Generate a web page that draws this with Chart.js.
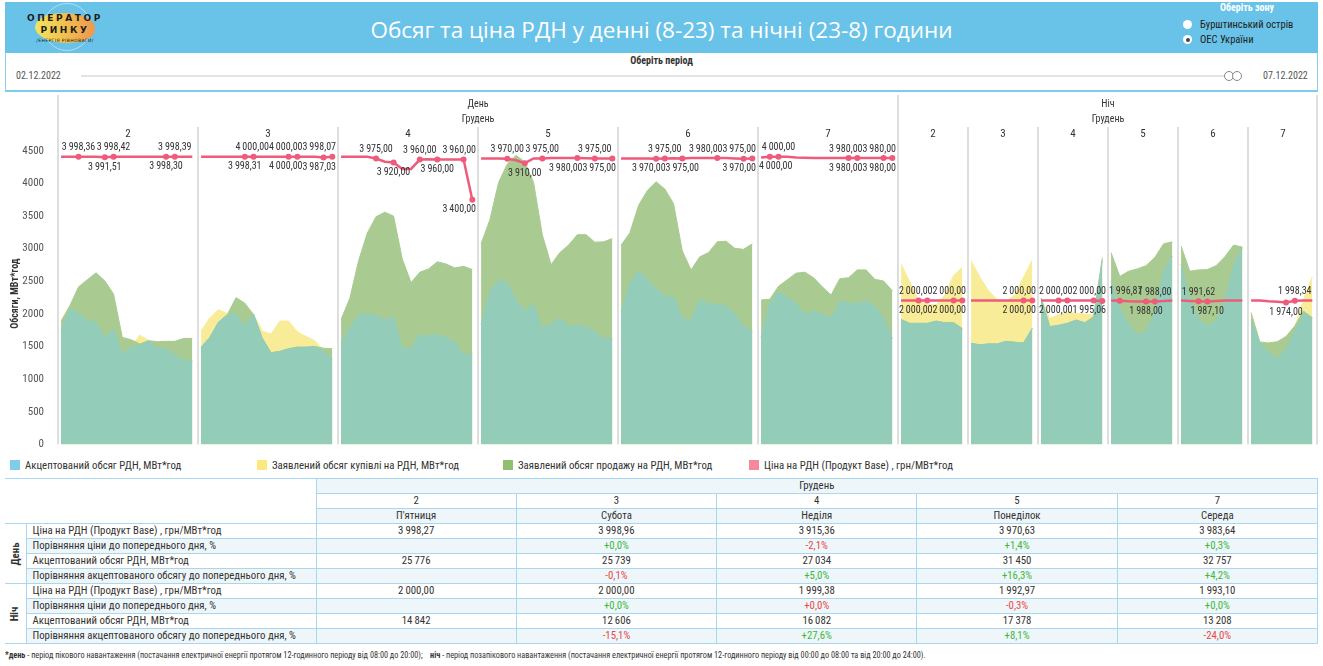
<!DOCTYPE html>
<html lang="uk">
<head>
<meta charset="utf-8">
<title>Обсяг та ціна РДН</title>
<script src="https://cdn.jsdelivr.net/npm/chart.js@4.4.1/dist/chart.umd.min.js"></script>
<style>
html, body { margin: 0; padding: 0; background: #fff; }
body { width: 1323px; height: 666px; position: relative; overflow: hidden;
       font-family: 'Liberation Sans Narrow', 'Roboto Condensed', Roboto, sans-serif; color: #333; }
#head { position: absolute; left: 5px; top: 2px; width: 1313px; height: 51px; background: #69c3e8; }
#title { position: absolute; left: 0; width: 100%; top: 12px; text-align: center; color: #fff;
         font: 22.5px 'Open Sans', sans-serif; }
#globe { position: absolute; left: 38px; top: 1px; width: 46px; height: 46px; border-radius: 50%;
         border: 1px solid rgba(255,255,255,0.45); }
#blob { position: absolute; left: 30px; top: 11px; width: 60px; height: 30px; border-radius: 48% 52% 45% 55%;
        background: linear-gradient(90deg, #f3e55e 0%, #f2c34f 45%, #ee9650 100%); }
.lg1 { position: absolute; left: 20px; top: 11px; width: 80px; text-align: center; font: bold 9px 'DejaVu Sans', sans-serif;
       letter-spacing: 2.6px; color: #1d1d1d; }
.lg2 { top: 23px; }
.lg3 { top: 36px; font: 4.5px 'DejaVu Sans', sans-serif; letter-spacing: 0.4px; }
#zone { position: absolute; left: 1180px; top: 2px; width: 143px; font-size: 10.5px; }
#zone .t { position: absolute; left: 40px; top: 0; color: #fff; font-weight: bold; font-size: 10px; }
#zone .r { position: absolute; left: 20px; white-space: nowrap; color: #222; }
#zone .r i { position: absolute; left: -17px; top: 2px; width: 9px; height: 9px; border-radius: 50%; background: #fff; }
#zone .r i.on::after { content: ''; position: absolute; left: 2.5px; top: 2.5px; width: 4px; height: 4px; border-radius: 50%; background: #444; }
#period { position: absolute; left: 5px; top: 53px; width: 1311px; height: 37px; border: 1px solid #8fd0ec;
          border-top: none; border-bottom: 2px solid #7fcbeb; }
#period .t { position: absolute; left: 0; width: 100%; top: 2px; text-align: center; font-weight: bold; font-size: 10px; }
#period .d { position: absolute; top: 17px; font-size: 10px; color: #555; }
#track { position: absolute; left: 75px; top: 22px; width: 1160px; height: 2px; background: #e3e3e3; }
.knob { position: absolute; top: 18px; width: 8px; height: 8px; border-radius: 50%; border: 1px solid #888; background: #fff; }
#chartWrap { position: absolute; left: 0; top: 95px; width: 1323px; height: 362px; }
#legend div { position: absolute; top: 459px; font-size: 10.8px; white-space: nowrap; color: #333; }
#legend i { display: inline-block; width: 10px; height: 10px; margin-right: 5px; vertical-align: -1px; }
#tbl { position: absolute; left: 5px; top: 478px; width: 1313px; border-collapse: collapse; table-layout: fixed; font-size: 10.8px; }
#tbl td { border: 1px solid #a9d8ee; height: 14px; line-height: 14px; padding: 0; text-align: center; white-space: nowrap; overflow: hidden; }
#tbl td.lab { text-align: left; padding-left: 6px; }
#tbl tr.sh td.v, #tbl tr.sh td.lab { background: #eef6fa; }
#tbl td.blank { border-left: none; background: #fff; }
#tbl td.grp { position: relative; font-weight: bold; border-left: none; }
#tbl td.grp span { display: inline-block; transform: rotate(-90deg); }
#note { position: absolute; left: 5px; top: 650px; font-size: 8.2px; white-space: nowrap; color: #333; }
</style>
</head>
<body>
<div id="head">
  <div id="globe"></div>
  <div id="blob"></div>
  <div class="lg1">ОПЕРАТОР</div>
  <div class="lg1 lg2">РИНКУ</div>
  <div class="lg1 lg3">/ЕНЕРГІЯ РІВНОВАГИ/</div>
  <div id="title">Обсяг та ціна РДН у денні (8-23) та нічні (23-8) години</div>
</div>
<div id="zone">
  <div class="t">Оберіть зону</div>
  <div class="r" style="top:16px"><i></i>Бурштинський острів</div>
  <div class="r" style="top:31px"><i class="on"></i>ОЕС України</div>
</div>
<div id="period">
  <div class="t">Оберіть період</div>
  <div class="d" style="left:10px">02.12.2022</div>
  <div id="track"></div>
  <div class="knob" style="left:1218px"></div>
  <div class="knob" style="left:1226px"></div>
  <div class="d" style="left:1257px">07.12.2022</div>
</div>
<div id="chartWrap"><canvas id="chart" width="1323" height="362"></canvas></div>
<div id="legend"></div>
<table id="tbl"></table>
<div id="note"><b>*день</b> - період пікового навантаження (постачання електричної енергії протягом 12-годинного періоду від 08:00 до 20:00);&nbsp;&nbsp;&nbsp; <b>ніч</b> - період позапікового навантаження (постачання електричної енергії протягом 12-годинного періоду від 00:00 до 08:00 та від 20:00 до 24:00).</div>

<script>
"use strict";

// panels: day numbers of December
var dayLabels = ['2', '3', '4', '5', '6', '7'];
var nightLabels = ['2', '3', '4', '5', '6', '7'];
var volumeTicks = [0, 500, 1000, 1500, 2000, 2500, 3000, 3500, 4000, 4500];

// hourly values, day panels (16 hours each)
var dayAccepted = [
    [1765, 2075, 2015, 1900, 1875, 1640, 1775, 1375, 1490, 1515, 1590, 1475, 1465, 1375, 1290, 1290],
    [1490, 1640, 1875, 1985, 2000, 1815, 2000, 1625, 1405, 1425, 1465, 1490, 1490, 1500, 1425, 1315],
    [1565, 1790, 1980, 2000, 1980, 1905, 1955, 1475, 1465, 1690, 1655, 1690, 1640, 1565, 1375, 1390],
    [1840, 2340, 2525, 2465, 2215, 2055, 2150, 1780, 1840, 1940, 1825, 1825, 1805, 1725, 1625, 1625],
    [2025, 2475, 2665, 2525, 2390, 2275, 2265, 1940, 1905, 2225, 2155, 2150, 2125, 2005, 1805, 1740],
    [1640, 2165, 2340, 2255, 2165, 1990, 2055, 1990, 1940, 2205, 2165, 2165, 2200, 2125, 1940, 1625]
];
var dayBuy = [
    [1765, 2075, 2015, 1900, 1875, 1640, 1775, 1375, 1500, 1675, 1595, 1475, 1465, 1375, 1290, 1290],
    [1740, 1940, 2065, 2005, 2060, 1950, 1990, 1740, 1690, 1890, 1890, 1725, 1655, 1590, 1440, 1315],
    [1565, 1790, 1980, 2000, 1980, 1905, 1955, 1475, 1465, 1690, 1655, 1690, 1640, 1565, 1375, 1390],
    [1840, 2340, 2525, 2465, 2215, 2055, 2150, 1780, 1840, 1940, 1825, 1825, 1805, 1725, 1625, 1625],
    [2025, 2475, 2665, 2525, 2390, 2275, 2265, 1940, 1905, 2225, 2155, 2150, 2125, 2005, 1805, 1740],
    [1640, 2165, 2340, 2255, 2165, 1990, 2055, 1990, 1940, 2205, 2165, 2165, 2200, 2125, 1940, 1625]
];
var daySell = [
    [1890, 2125, 2415, 2525, 2630, 2505, 2305, 1640, 1605, 1540, 1590, 1575, 1580, 1580, 1625, 1625],
    [1490, 1640, 1875, 1990, 2250, 2165, 1990, 1625, 1405, 1425, 1465, 1490, 1490, 1500, 1475, 1465],
    [1915, 2240, 2815, 3240, 3490, 3560, 3500, 2840, 2480, 2640, 2690, 2800, 2765, 2705, 2730, 2680],
    [3075, 3440, 4015, 4300, 4430, 4330, 4015, 3215, 2755, 2940, 3055, 3215, 3215, 3100, 3105, 3155],
    [3055, 3240, 3665, 3890, 4025, 3915, 3690, 2965, 2675, 2875, 2940, 3105, 3115, 3005, 2990, 3075],
    [2215, 2225, 2425, 2525, 2625, 2640, 2555, 2415, 2290, 2540, 2555, 2675, 2675, 2530, 2505, 2355]
];
var dayPrice = [
    [4000, 3999.5, 3998.36, 3999, 3999, 3991.51, 3998.42, 3999, 3999, 3999, 4000, 4000, 3998.30, 3998.39, 3999, 3999],
    [4000, 4000, 4000, 4000, 4000, 3998.31, 4000, 4000, 4000, 4000, 4000, 4000, 4000, 4000, 3987.03, 3998.07],
    [4000, 4000, 4000, 4000, 3975, 3930, 3920, 3830, 3830, 3960, 3965, 3960, 3960, 3960, 3960, 3400],
    [3975, 3975, 3975, 3970, 3950, 3910, 3975, 3975, 3980, 3980, 3980, 3980, 3978, 3975, 3975, 3975],
    [3975, 3975, 3975, 3975, 3970, 3975, 3978, 3975, 3980, 3980, 3980, 3980, 3980, 3975, 3970, 3975],
    [3990, 4000, 4000, 4000, 3990, 3985, 3980, 3980, 3980, 3980, 3980, 3980, 3980, 3980, 3980, 3980]
];
var dayPriceMarks = [[2, 5, 6, 12, 13], [5, 6, 10, 11, 14, 15], [4, 6, 9, 11, 14, 15],
                     [3, 5, 7, 11, 13, 15], [4, 5, 7, 11, 14, 15], [1, 2, 10, 11, 14, 15]];
var dayPriceBelow = [[5, 12], [5, 10, 14], [6, 11, 15], [5, 11, 15], [4, 7, 14], [1, 11, 15]];

// hourly values, night panels (8 hours each)
var nightAccepted = [
    [1915, 1855, 1855, 1855, 1890, 1865, 1865, 1775],
    [1550, 1525, 1540, 1540, 1580, 1565, 1555, 1780],
    [2240, 1805, 1825, 1855, 1905, 1865, 1915, 2815],
    [2500, 2100, 1850, 1680, 1740, 2015, 2665, 2890],
    [2765, 2215, 1940, 1815, 1890, 2215, 2765, 3015],
    [1915, 1565, 1415, 1315, 1465, 1740, 2040, 1940]
];
var nightBuy = [
    [2765, 2490, 2215, 2140, 2140, 2290, 2590, 2715],
    [2815, 2565, 2355, 2215, 2190, 2290, 2565, 2825],
    [2240, 1930, 1990, 2020, 2010, 2000, 1980, 2815],
    [2500, 2100, 1850, 1680, 1740, 2015, 2665, 2890],
    [2765, 2215, 1940, 1815, 1890, 2215, 2765, 3015],
    [2025, 1565, 1545, 1565, 1645, 1810, 2215, 2575]
];
var nightSell = [
    [1915, 1855, 1855, 1855, 1890, 1865, 1865, 1775],
    [1550, 1525, 1540, 1540, 1580, 1565, 1555, 1780],
    [2240, 1805, 1825, 1855, 1905, 1865, 1960, 2860],
    [2940, 2575, 2655, 2690, 2740, 2865, 3075, 3105],
    [3040, 2655, 2675, 2680, 2740, 2875, 3055, 3025],
    [2015, 1570, 1555, 1575, 1655, 1815, 2040, 1940]
];
var nightPrice = [
    [2000, 2000, 2000, 2000, 2000, 2000, 2000, 2000],
    [2000, 2000, 2000, 2000, 2000, 2000, 2000, 2000],
    [2000, 2000, 2000, 2000, 2000, 2000, 2000, 1995.06],
    [2000, 1996.87, 1990, 1988, 1988, 1988, 1992, 2000],
    [2000, 1995, 1991.62, 1987.10, 1995, 2000, 2000, 2000],
    [2000, 2000, 1990, 1983, 1974, 1998.34, 2000, 2000]
];
var nightPriceMarks = [[2, 3, 6, 7], [6, 7], [2, 3, 6, 7], [1, 4, 5], [2, 3], [4, 5]];
var nightPriceBelow = [[3, 7], [7], [3, 7], [4], [3], [4]];

// table
var tableDays = ['2', '3', '4', '5', '7'];
var tableWeekdays = ["П'ятниця", 'Субота', 'Неділя', 'Понеділок', 'Середа'];
var tableDayPrice = [3998.27, 3998.96, 3915.36, 3970.63, 3983.64];
var tableDayVolume = [25776, 25739, 27034, 31450, 32757];
var tableNightPrice = [2000.00, 2000.00, 1999.38, 1992.97, 1993.10];
var tableNightVolume = [14842, 12606, 16082, 17378, 13208];

var FONT = "'Liberation Sans Narrow', 'Roboto Condensed', Roboto, sans-serif";
var colAccepted = '#93cdb9', colBuy = '#f8ec98', colSell = '#a9cb91', colPrice = '#ef5b7b';

function fmt(v, dec) {
    var parts = v.toFixed(dec).split('.');
    var s = parts[0].replace(/\B(?=(\d{3})+(?!\d))/g, '\u2009');
    return parts.length > 1 ? s + ',' + parts[1] : s;
}

// build panels and point lists
var panels = [];
dayLabels.forEach(function (d, k) {
    panels.push({ label: d, start: k * 16, len: 16, acc: dayAccepted[k], buy: dayBuy[k], sell: daySell[k],
                  price: dayPrice[k], marks: dayPriceMarks[k], below: dayPriceBelow[k], labels: [] });
});
nightLabels.forEach(function (d, k) {
    panels.push({ label: d, start: 96 + k * 8, len: 8, acc: nightAccepted[k], buy: nightBuy[k], sell: nightSell[k],
                  price: nightPrice[k], marks: nightPriceMarks[k], below: nightPriceBelow[k], labels: [] });
});

var accPts = [], buyPts = [], sellPts = [], pricePts = [], priceRadius = [];
panels.forEach(function (p) {
    p.acc.forEach(function (v, i) {
        var xv = p.start + 0.35 + i;
        accPts.push({ x: xv, y: v });
        buyPts.push({ x: xv, y: p.buy[i] });
        sellPts.push({ x: xv, y: p.sell[i] });
        if (p.marks.indexOf(i) >= 0) {
            p.labels.push({ idx: pricePts.length, value: p.price[i], below: p.below.indexOf(i) >= 0 });
        }
        priceRadius.push(p.marks.indexOf(i) >= 0 ? 3 : 0);
        pricePts.push({ x: xv, y: p.price[i] });
    });
    var gx = p.start + p.len - 0.1;
    accPts.push({ x: gx, y: null });
    buyPts.push({ x: gx, y: null });
    sellPts.push({ x: gx, y: null });
    pricePts.push({ x: gx, y: null });
    priceRadius.push(0);
});

// separators and panel headers
var panelPlugin = {
    id: 'panels',
    beforeDatasetsDraw: function (chart) {
        var ctx = chart.ctx, x = chart.scales.x, area = chart.chartArea;
        ctx.save();
        ctx.strokeStyle = '#dedede';
        ctx.lineWidth = 2;
        panels.forEach(function (p, n) {
            var px = Math.round(x.getPixelForValue(p.start));
            var top = (n === 0 || n === 6) ? 0 : 32;
            ctx.beginPath();
            ctx.moveTo(px, top);
            ctx.lineTo(px, area.bottom);
            ctx.stroke();
        });
        ctx.beginPath();
        ctx.moveTo(area.right - 1, 0);
        ctx.lineTo(area.right - 1, area.bottom);
        ctx.stroke();

        ctx.fillStyle = '#333';
        ctx.textAlign = 'center';
        ctx.textBaseline = 'middle';
        ctx.font = '11px ' + FONT;
        panels.forEach(function (p) {
            ctx.fillText(p.label, x.getPixelForValue(p.start + p.len / 2), 39);
        });
        ctx.font = '10px ' + FONT;
        var dayMid = x.getPixelForValue(48), nightMid = x.getPixelForValue(120);
        ctx.fillText('День', dayMid, 9);
        ctx.fillText('Грудень', dayMid, 24);
        ctx.fillText('Ніч', nightMid, 9);
        ctx.fillText('Грудень', nightMid, 24);
        ctx.restore();
    }
};

// price value labels, kept inside their panel
var labelPlugin = {
    id: 'priceLabels',
    afterDatasetsDraw: function (chart) {
        var ctx = chart.ctx, x = chart.scales.x;
        var meta = chart.getDatasetMeta(0);
        ctx.save();
        ctx.font = '10px ' + FONT;
        ctx.fillStyle = '#333';
        ctx.textAlign = 'left';
        ctx.textBaseline = 'middle';
        panels.forEach(function (p) {
            var lo = x.getPixelForValue(p.start) + 1;
            var hi = x.getPixelForValue(p.start + p.len) - 2;
            var placed = [];
            p.labels.slice().sort(function (a, b) { return b.idx - a.idx; }).forEach(function (m) {
                var pt = meta.data[m.idx];
                var text = fmt(m.value, 2);
                var w = ctx.measureText(text).width;
                var cy = m.below ? pt.y + 10 : pt.y - 9;
                var left = Math.min(pt.x - w / 2, hi - w);
                placed.forEach(function (b) {
                    if (Math.abs(b.cy - cy) < 10 && left + w > b.left && left < b.left + b.w) {
                        left = b.left - w;
                    }
                });
                left = Math.max(left, lo);
                placed.push({ left: left, w: w, cy: cy });
                ctx.fillText(text, left, cy);
            });
        });
        ctx.restore();
    }
};

Chart.defaults.font.family = FONT;

var myChart = new Chart(document.getElementById('chart'), {
    type: 'line',
    data: {
        datasets: [{
            label: 'Ціна на РДН (Продукт Base) , грн/МВт*год',
            data: pricePts,
            yAxisID: 'y1',
            borderColor: colPrice,
            borderWidth: 2.5,
            pointRadius: priceRadius,
            pointBackgroundColor: colPrice,
            pointBorderWidth: 0,
            fill: false
        }, {
            label: 'Акцептований обсяг РДН, МВт*год',
            data: accPts,
            borderColor: colAccepted,
            backgroundColor: colAccepted,
            borderWidth: 1,
            pointRadius: 0,
            fill: 'origin'
        }, {
            label: 'Заявлений обсяг продажу на РДН, МВт*год',
            data: sellPts,
            borderColor: colSell,
            backgroundColor: colSell,
            borderWidth: 1,
            pointRadius: 0,
            fill: 'origin'
        }, {
            label: 'Заявлений обсяг купівлі на РДН, МВт*год',
            data: buyPts,
            borderColor: colBuy,
            backgroundColor: colBuy,
            borderWidth: 1,
            pointRadius: 0,
            fill: 'origin'
        }]
    },
    options: {
        responsive: false,
        animation: false,
        spanGaps: false,
        layout: { padding: { top: 48, right: 5, bottom: 6, left: 0 } },
        plugins: { legend: { display: false }, tooltip: { enabled: false } },
        elements: { line: { tension: 0 } },
        scales: {
            x: { type: 'linear', min: 0, max: 144, display: false },
            y: {
                min: 0, max: 4620, position: 'left',
                grid: { display: false }, border: { display: false },
                ticks: { autoSkip: false, color: '#555', font: { size: 11 }, padding: 6,
                         callback: function (v) { return String(v); } },
                afterBuildTicks: function (s) { s.ticks = volumeTicks.map(function (v) { return { value: v }; }); },
                afterFit: function (s) { s.width = 58; },
                title: { display: true, text: 'Обсяги, МВт*год', color: '#333', font: { size: 10, weight: 'bold' },
                         padding: { top: 9, bottom: 0 } }
            },
            y1: { min: 0, max: 4190, display: false }
        }
    },
    plugins: [panelPlugin, labelPlugin]
});

// legend
var legendItems = [
    ['#7fcde9', 'Акцептований обсяг РДН, МВт*год', 10],
    ['#fbe97b', 'Заявлений обсяг купівлі на РДН, МВт*год', 257],
    ['#8fbf6f', 'Заявлений обсяг продажу на РДН, МВт*год', 503],
    ['#f6889c', 'Ціна на РДН (Продукт Base) , грн/МВт*год', 749]
];
document.getElementById('legend').innerHTML = legendItems.map(function (l) {
    return '<div style="left:' + l[2] + 'px"><i style="background:' + l[0] + '"></i>' + l[1] + '</div>';
}).join('');

// table
function pct(cur, prev) {
    var p = (cur / prev - 1) * 100;
    var r = Math.round(p * 10) / 10;
    var s = (r < 0 ? '-' : '+') + Math.abs(r).toFixed(1).replace('.', ',') + '%';
    return '<span style="color:' + (p < 0 ? '#e84848' : '#3cb83c') + '">' + s + '</span>';
}
function rowCells(vals, f) {
    return vals.map(function (v, i) { return '<td class="v">' + f(v, i) + '</td>'; }).join('');
}
function group(name, price, volume) {
    var h = '';
    h += '<tr><td class="grp" rowspan="4"><span>' + name + '</span></td><td class="lab">Ціна на РДН (Продукт Base) , грн/МВт*год</td>' +
         rowCells(price, function (v) { return fmt(v, 2); }) + '</tr>';
    h += '<tr class="sh"><td class="lab">Порівняння ціни до попереднього дня, %</td>' +
         rowCells(price, function (v, i) { return i ? pct(v, price[i - 1]) : ''; }) + '</tr>';
    h += '<tr><td class="lab">Акцептований обсяг РДН, МВт*год</td>' +
         rowCells(volume, function (v) { return fmt(v, 0); }) + '</tr>';
    h += '<tr class="sh"><td class="lab">Порівняння акцептованого обсягу до попереднього дня, %</td>' +
         rowCells(volume, function (v, i) { return i ? pct(v, volume[i - 1]) : ''; }) + '</tr>';
    return h;
}
var th = '<colgroup><col style="width:21px"><col style="width:290px">' +
         tableDays.map(function () { return '<col>'; }).join('') + '</colgroup>';
th += '<tr class="sh"><td class="blank" colspan="2" rowspan="3"></td><td class="v" colspan="5">Грудень</td></tr>';
th += '<tr>' + rowCells(tableDays, function (v) { return v; }) + '</tr>';
th += '<tr class="sh">' + rowCells(tableWeekdays, function (v) { return v; }) + '</tr>';
th += group('День', tableDayPrice, tableDayVolume);
th += group('Ніч', tableNightPrice, tableNightVolume);
document.getElementById('tbl').innerHTML = th;
</script>
</body>
</html>
